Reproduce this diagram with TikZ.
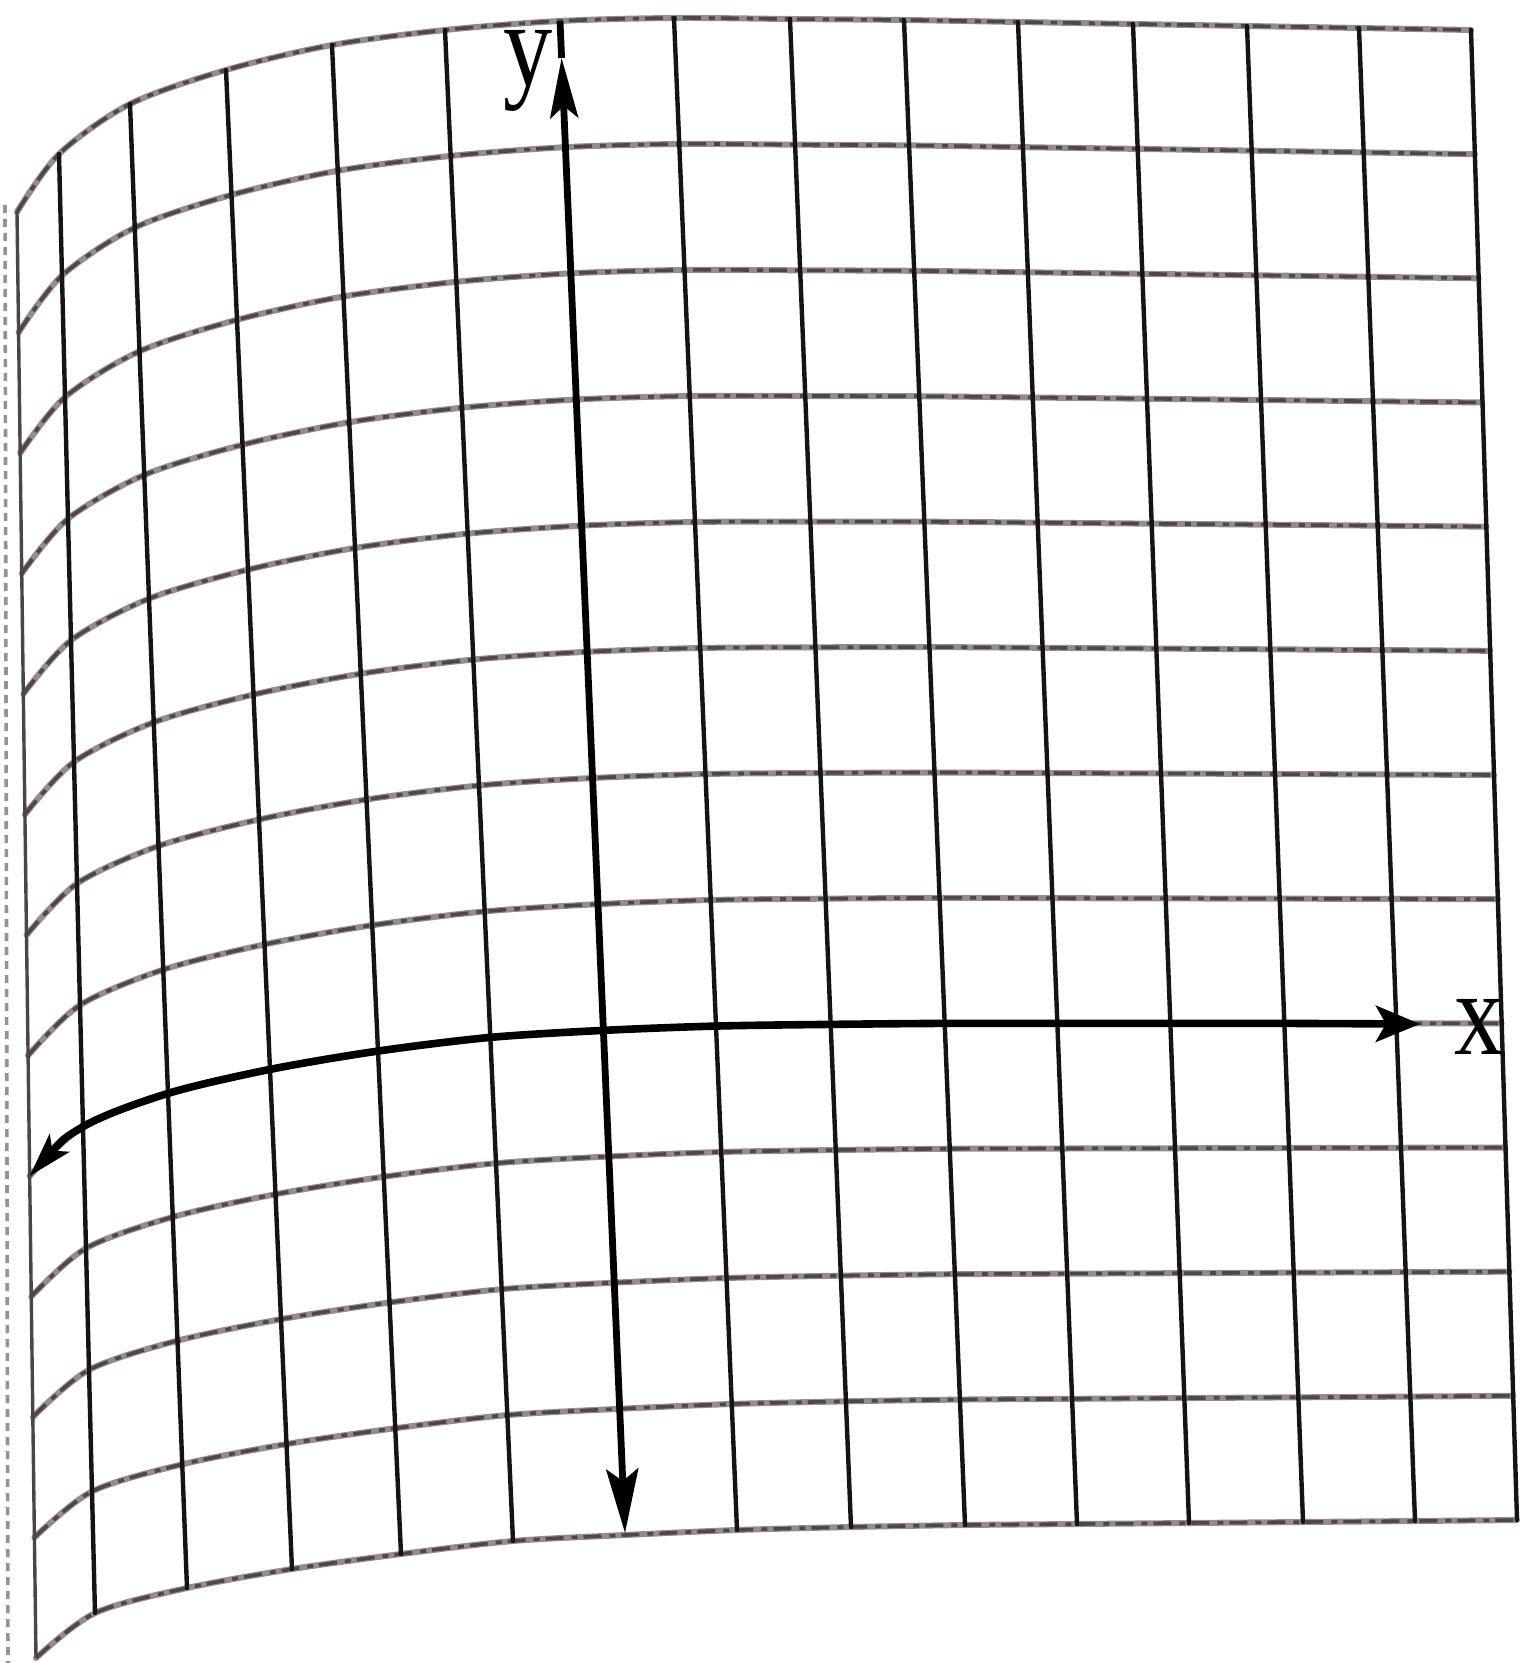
\documentclass[tikz,border=0pt]{standalone}
\usepackage{fontspec}
\setmainfont{Liberation Serif}
\usetikzlibrary{arrows.meta}
\definecolor{rowgray}{RGB}{150,140,144}
\definecolor{rowdark}{RGB}{80,70,74}
\definecolor{edgegray}{RGB}{150,145,150}
\def\TX{{17,59,130,226,332,445,560,674,790,904,1018,1133,1247,1359,1471}}
\def\TY{{212,154,104,70,45,30,21,18,19,20,22,24,26,28,30}}
\def\BX{{36,95,187,292,401,513,625,737,851,965,1077,1189,1303,1415,1517}}
\def\BY{{1658,1613,1588,1569,1554,1541,1535,1530,1527,1525,1524,1523,1522,1521,1520}}
\begin{document}
\begin{tikzpicture}[x=0.5pt,y=-0.5pt,
  hline/.style={line width=3pt, draw=rowgray, line cap=round},
  hdash/.style={line width=1.8pt, draw=rowdark, dash pattern=on 9pt off 4pt on 3pt off 3pt},
  vline/.style={line width=2.2pt, draw=black!92, line cap=round},
  border/.style={line width=1.7pt, draw=black!72},
  pageedge/.style={line width=1.8pt, draw=edgegray, dash pattern=on 4pt off 3pt},
  axisy/.style={line width=3.4pt, draw=black},
  axisx/.style={line width=3.8pt, draw=black},
  lab/.style={font=\fontsize{60}{60}\selectfont, anchor=base, inner sep=0pt, xscale=0.82, transform shape}]
\useasboundingbox (0,0) rectangle (1526,1663);
\fill[white] (0,0) rectangle (1526,1663);
% faint page edge
\draw[pageedge] (5,205) -- (8,1663);
% horizontal grid rows
\foreach \v in {-4,...,8}{
  \pgfmathsetmacro\t{(8-\v)/12}
  \draw[hline] plot[smooth, variable=\i, samples at={0,...,14}]
    ({\TX[\i]+\t*(\BX[\i]-\TX[\i])},{\TY[\i]+\t*(\BY[\i]-\TY[\i])});
  \draw[hdash] plot[smooth, variable=\i, samples at={0,...,14}]
    ({\TX[\i]+\t*(\BX[\i]-\TX[\i])},{\TY[\i]+\t*(\BY[\i]-\TY[\i])});
}
% left border column
\draw[border] ({\TX[0]},{\TY[0]}) -- ({\BX[0]},{\BY[0]});
% vertical grid columns
\foreach \i in {1,2,3,4,5,7,8,9,10,11,12,13,14}{
  \draw[vline] ({\TX[\i]},{\TY[\i]}) -- ({\BX[\i]},{\BY[\i]});
}
% y axis
\coordinate (ytop) at (560,21);
\coordinate (yhead) at (561.6,58);
\coordinate (ybot) at (625,1533);
\draw[axisy] (ytop) -- (yhead);
\draw[axisy, {Stealth[length=32pt,width=16pt,inset=6pt]}-{Stealth[length=30pt,width=14pt,inset=6pt]}] (ybot) -- (yhead);
% x axis
\coordinate (xend) at (1420,1024);
\draw[axisx, {Stealth[length=22pt,width=13pt,inset=5pt]}-{Stealth[length=22pt,width=18pt,inset=5pt]}]
  plot[smooth, variable=\i, samples at={0,...,12}]
    ({\TX[\i]+0.6667*(\BX[\i]-\TX[\i])},{\TY[\i]+0.6667*(\BY[\i]-\TY[\i])}) -- (xend);
% labels
\node[lab] (ylabel) at (528,86) {y};
\node[lab] (xlabel) at (1479,1054) {x};
\end{tikzpicture}
\end{document}
